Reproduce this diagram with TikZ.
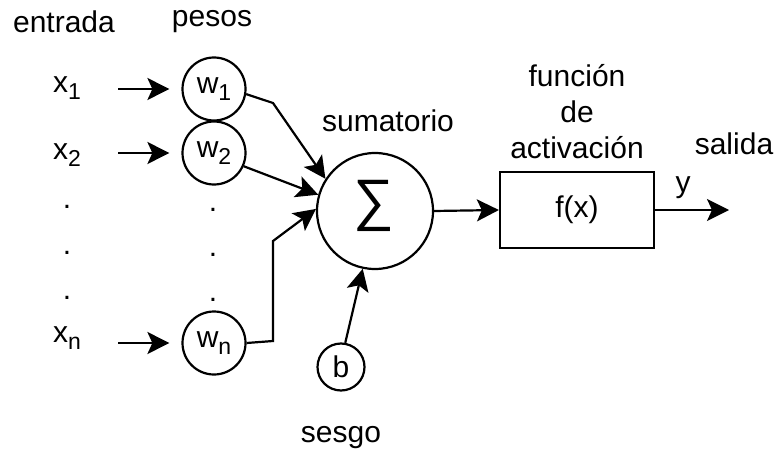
\documentclass[tikz,border=0pt]{standalone}
\usepackage{fontspec}
\setmainfont{Liberation Sans}
\usetikzlibrary{arrows.meta}
\newcommand\lsub[1]{\raisebox{-7pt}{\fontsize{23}{26}\selectfont #1}}
\begin{document}
\begin{tikzpicture}[x=1pt,y=-1pt,
  txt/.style={font=\fontsize{30}{36}\selectfont, inner sep=0pt},
  wnode/.style={draw, circle, line width=2.2pt, minimum size=63pt, inner sep=0pt, font=\fontsize{30}{36}\selectfont},
  dotn/.style={font=\fontsize{30}{36}\selectfont, inner sep=0pt, anchor=center},
  arr/.style={line width=2.2pt, -{Stealth[length=22pt,width=22pt,inset=5pt]}},
  line join=miter
]
\useasboundingbox (0,0) rectangle (778,449);
% headings
\node[txt, anchor=base] (entrada) at (64,33) {entrada};
\node[txt, anchor=base] (pesos) at (212,27) {pesos};
\node[txt, anchor=base] (sumat) at (388,132) {sumatorio};
\node[txt, anchor=base] (fun1) at (577,87) {función};
\node[txt, anchor=base] (fun2) at (577,123) {de};
\node[txt, anchor=base] (fun3) at (577,159) {activación};
\node[txt, anchor=base] (salida) at (734,155) {salida};
\node[txt, anchor=base] (ylab) at (683,192) {y};
\node[txt, anchor=base] (sesgo) at (341,442) {sesgo};
% inputs
\node[txt, anchor=base west] (x1) at (53,93) {x\lsub{1}};
\node[txt, anchor=base west] (x2) at (53,160) {x\lsub{2}};
\node[txt, anchor=base west] (xn) at (53,342) {x\lsub{n}};
\node[dotn] (d1) at (67,207) {.};
\node[dotn] (d2) at (67,253) {.};
\node[dotn] (d3) at (67,298) {.};
\node[dotn] (e1) at (213,210) {.};
\node[dotn] (e2) at (213,255) {.};
\node[dotn] (e3) at (213,300) {.};
% weights
\node[wnode] (w1) at (214,89) {w\lsub{1}};
\node[wnode] (w2) at (214,153) {w\lsub{2}};
\node[wnode] (wn) at (214,343) {w\lsub{n}};
% sum, bias, activation
\node[draw, circle, line width=2.2pt, minimum size=116pt, inner sep=0pt] (sum) at (375,211) {};
\node[inner sep=0pt, font=\fontsize{57}{60}\selectfont] (sigma) at (374,206) {∑};
\node[wnode, minimum size=47pt] (b) at (341,367) {b};
\node[draw, line width=2.2pt, minimum width=154pt, minimum height=76pt, inner sep=0pt, font=\fontsize{30}{36}\selectfont] (box) at (577,210) {f(x)};
% coordinates
\coordinate (s1) at (118,89);
\coordinate (s2) at (118,153);
\coordinate (sn) at (118,343);
\coordinate (k1) at (273,103);
\coordinate (kn1) at (273,341);
\coordinate (kn2) at (273,241);
\coordinate (out) at (729,210);
% connectors
\draw[arr, shorten >=12pt] (s1) -- (w1.west);
\draw[arr, shorten >=12pt] (s2) -- (w2.west);
\draw[arr, shorten >=12pt] (sn) -- (wn.west);
\draw[arr] (w1.-9) -- (k1) -- (sum.147);
\draw[arr] (w2.-24) -- (sum.164);
\draw[arr] (wn.east) -- (kn1) -- (kn2) -- (sum.178);
\draw[arr] (b.80) -- (sum.-102);
\draw[arr] (sum.east) -- (box.west);
\draw[arr] (box.east) -- (out);
\end{tikzpicture}
\end{document}
